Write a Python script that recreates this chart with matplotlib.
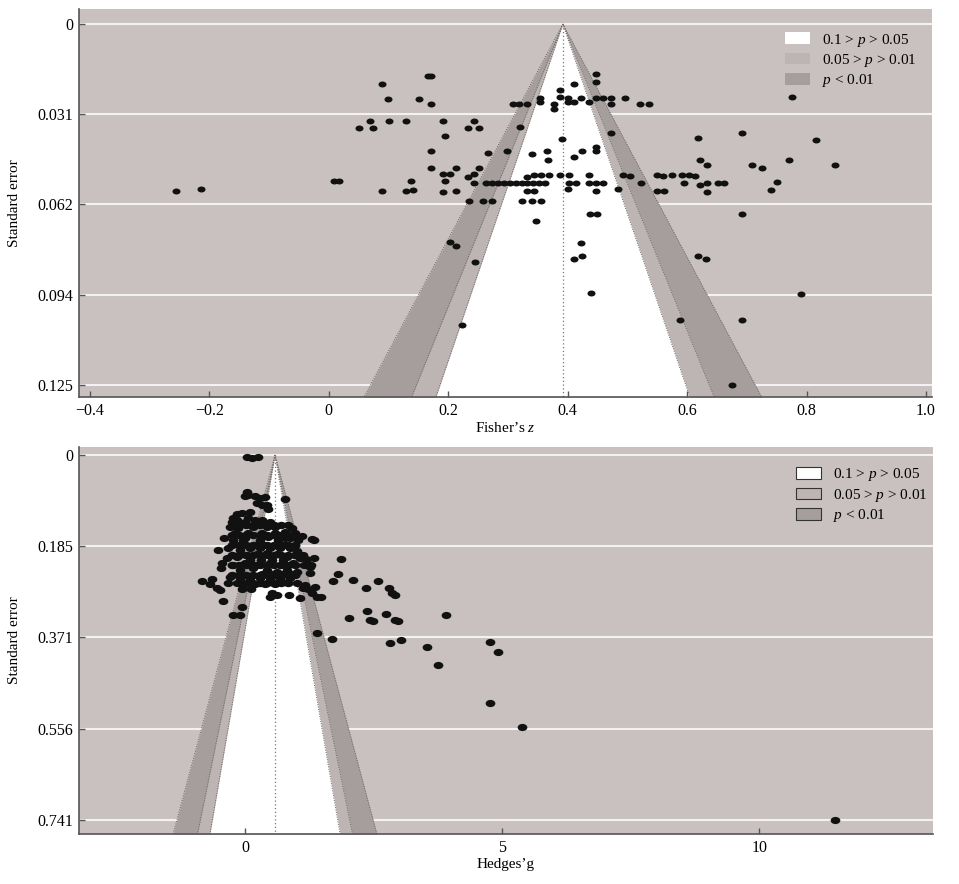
import matplotlib
matplotlib.use("Agg")
import matplotlib.pyplot as plt
from matplotlib.path import Path
from matplotlib.transforms import Affine2D
from matplotlib.patches import Patch

plt.rcParams['font.family'] = ['Liberation Serif', 'DejaVu Serif']
plt.rcParams['mathtext.fontset'] = 'custom'
plt.rcParams['mathtext.rm'] = 'Liberation Serif'
plt.rcParams['mathtext.it'] = 'Liberation Serif:italic'

# ---------------- data: top panel (Fisher's z) ----------------
top_center = 0.392
top_z = [-0.255, -0.213, 0.009, 0.018, 0.050, 0.069, 0.075, 0.090, 0.099, 0.101,
         0.090, 0.129, 0.129, 0.141, 0.138, 0.152, 0.167, 0.172, 0.171, 0.171,
         0.171, 0.192, 0.194, 0.192, 0.203, 0.195, 0.192, 0.213, 0.213, 0.234,
         0.244, 0.252, 0.234, 0.244, 0.244, 0.252, 0.235,
         0.447, 0.447, 0.411, 0.388, 0.309, 0.319, 0.332, 0.354, 0.354, 0.377,
         0.377, 0.388, 0.400, 0.400, 0.411, 0.422, 0.435, 0.447, 0.460, 0.472,
         0.472, 0.496, 0.521, 0.536, 0.775, 0.320, 0.390, 0.472, 0.618, 0.692,
         0.816, 0.266, 0.298, 0.340, 0.365, 0.368, 0.411, 0.424, 0.447, 0.447,
         0.621, 0.633, 0.708, 0.726, 0.771, 0.847, 0.332, 0.343, 0.355, 0.369,
         0.388, 0.403, 0.403, 0.414, 0.435, 0.435, 0.447, 0.460, 0.493, 0.504,
         0.523, 0.549, 0.560, 0.574, 0.591, 0.604, 0.613, 0.595, 0.622, 0.633,
         0.651, 0.662, 0.751, 0.741,
         0.263, 0.273, 0.284, 0.294, 0.304, 0.314, 0.324, 0.332, 0.342, 0.352,
         0.362,
         0.332, 0.343, 0.400, 0.447, 0.484, 0.549, 0.562, 0.633, 0.259, 0.273,
         0.323, 0.340, 0.355, 0.438, 0.449, 0.692, 0.347, 0.422, 0.411, 0.424,
         0.618, 0.632, 0.439, 0.791, 0.589, 0.692, 0.675, 0.203, 0.213, 0.245,
         0.223]
top_se = [0.0578, 0.0570, 0.0545, 0.0545, 0.0359, 0.0337, 0.0359, 0.0207, 0.0260, 0.0337,
          0.0580, 0.0337, 0.0579, 0.0575, 0.0545, 0.0260, 0.0180, 0.0180, 0.0278, 0.0439,
          0.0499, 0.0337, 0.0387, 0.0519, 0.0519, 0.0545, 0.0581, 0.0499, 0.0579, 0.0359,
          0.0337, 0.0359, 0.0530, 0.0519, 0.0550, 0.0499, 0.0612,
          0.0173, 0.0202, 0.0207, 0.0230, 0.0276, 0.0276, 0.0276, 0.0255, 0.0270, 0.0278,
          0.0294, 0.0253, 0.0255, 0.0270, 0.0270, 0.0255, 0.0270, 0.0255, 0.0255, 0.0255,
          0.0278, 0.0255, 0.0278, 0.0278, 0.0253, 0.0358, 0.0399, 0.0377, 0.0395, 0.0377,
          0.0402, 0.0448, 0.0439, 0.0449, 0.0439, 0.0472, 0.0459, 0.0439, 0.0426, 0.0439,
          0.0472, 0.0489, 0.0489, 0.0498, 0.0471, 0.0489, 0.0529, 0.0523, 0.0523, 0.0523,
          0.0522, 0.0523, 0.0550, 0.0550, 0.0523, 0.0550, 0.0550, 0.0550, 0.0523, 0.0526,
          0.0550, 0.0523, 0.0526, 0.0523, 0.0523, 0.0523, 0.0526, 0.0550, 0.0559, 0.0550,
          0.0550, 0.0550, 0.0547, 0.0576,
          0.0550, 0.0550, 0.0550, 0.0550, 0.0550, 0.0550, 0.0550, 0.0550, 0.0550, 0.0550,
          0.0550,
          0.0577, 0.0577, 0.0572, 0.0577, 0.0572, 0.0577, 0.0577, 0.0581, 0.0612, 0.0612,
          0.0612, 0.0612, 0.0612, 0.0659, 0.0659, 0.0659, 0.0682, 0.0759, 0.0813, 0.0802,
          0.0802, 0.0813, 0.0932, 0.0936, 0.1026, 0.1026, 0.1250, 0.0755, 0.0768, 0.0824,
          0.1042]
top_xticks = [-0.4, -0.2, 0, 0.2, 0.4, 0.6, 0.8, 1.0]
top_xticklabels = ['\u22120.4', '\u22120.2', '0', '0.2', '0.4', '0.6', '0.8', '1.0']
top_yticks = [0, 0.03125, 0.0625, 0.09375, 0.125]
top_yticklabels = ['0', '0.031', '0.062', '0.094', '0.125']

# ---------------- data: bottom panel (Hedges' g) ----------------
bot_center = 0.578
bot_g = [0.033, 0.140, 0.247, 0.027, -0.006, 0.062, 0.189, 0.286, 0.393, 0.767,
         0.222, 0.325, 0.422, 0.447, -0.167, -0.070, 0.091, 0.058, -0.233, -0.265,
         -0.167, -0.006, 0.189, 0.319, 0.481, -0.298, -0.136, 0.156, 0.416, 0.578,
         0.903, -0.200, 0.058, 0.319, 0.578, 0.772, 0.967, 1.097, -0.405, -0.006,
         0.447, 0.772, 1.292, 1.337, -0.233, -0.039, 0.286, 0.642, 0.870, 1.031,
         -0.525, -0.103, 0.091, 0.286, 0.481, 0.675, 0.870, 1.000, -0.362, -0.167,
         0.027, 0.222, 0.416, 0.611, 0.805, 1.064, 1.337, 1.117, 1.181, 1.856,
         -0.459, -0.467, -0.233, -0.006, 0.222, 0.481, 0.675, 0.934, 1.195, 1.142,
         1.278, 1.259, -0.103, 0.156, 0.416, 0.611, 0.805, 1.000, 1.268, 1.809,
         -0.298, -0.103, 0.091, 0.286, 0.481, 0.675, 0.870, -0.848, -0.648, -0.681,
         0.805, 1.000, 1.161, 1.356, 1.706, 2.101, 2.576, 2.348, 2.802, 2.848,
         2.907, -0.551, -0.492, -0.070, 0.111, 0.514, 0.626, 0.481, 0.850, 1.064,
         1.307, 1.389, 1.473, 1.128, 1.226, -0.428, -0.070, -0.233, -0.103, 2.023,
         2.362, 2.426, 2.479, 2.728, 2.912, 2.977, 3.905, 1.389, 1.696, 2.815,
         3.023, 3.535, 3.743, 4.761, 4.911, 4.761, 5.383, 11.473,
         0.189, 0.383, 0.578, 0.772, 0.091, 0.305, 0.519, 0.733, 0.325, 0.519,
         0.714, 0.909, -0.006, 0.189, 0.383, 0.578, -0.337, -0.161, -0.337]
bot_se = [0.0047, 0.0057, 0.0047, 0.0741, 0.0832, 0.0812, 0.0832, 0.0863, 0.0853, 0.0899,
          0.0981, 0.1005, 0.1005, 0.1102, 0.1188, 0.1184, 0.1163, 0.1285, 0.1285, 0.1354,
          0.1320, 0.1354, 0.1320, 0.1320, 0.1354, 0.1456, 0.1488, 0.1468, 0.1468, 0.1456,
          0.1478, 0.1590, 0.1577, 0.1577, 0.1590, 0.1557, 0.1590, 0.1644, 0.1675, 0.1691,
          0.1671, 0.1691, 0.1705, 0.1726, 0.1726, 0.1726, 0.1726, 0.1726, 0.1691, 0.1726,
          0.1929, 0.1929, 0.1894, 0.1894, 0.1894, 0.1894, 0.1894, 0.1949, 0.2097, 0.2065,
          0.2030, 0.2016, 0.1996, 0.2016, 0.2065, 0.2097, 0.2081, 0.2030, 0.2117, 0.2107,
          0.2199, 0.2300, 0.2233, 0.2199, 0.2233, 0.2199, 0.2233, 0.2199, 0.2199, 0.2233,
          0.2233, 0.2274, 0.2335, 0.2300, 0.2335, 0.2369, 0.2335, 0.2369, 0.2395, 0.2416,
          0.2471, 0.2491, 0.2491, 0.2491, 0.2491, 0.2491, 0.2491, 0.2558, 0.2513, 0.2619,
          0.2572, 0.2605, 0.2639, 0.2674, 0.2568, 0.2544, 0.2568, 0.2704, 0.2700, 0.2808,
          0.2842, 0.2710, 0.2741, 0.2716, 0.2724, 0.2801, 0.2832, 0.2877, 0.2842, 0.2909,
          0.2808, 0.2873, 0.2873, 0.2706, 0.2726, 0.2964, 0.3086, 0.3248, 0.3248, 0.3315,
          0.3161, 0.3343, 0.3380, 0.3232, 0.3350, 0.3380, 0.3248, 0.3620, 0.3729, 0.3817,
          0.3756, 0.3892, 0.4269, 0.3796, 0.4005, 0.5035, 0.5528, 0.7410,
          0.1827, 0.1827, 0.1827, 0.1827, 0.2132, 0.2132, 0.2132, 0.2132, 0.2416, 0.2416,
          0.2416, 0.2416, 0.2619, 0.2619, 0.2619, 0.2619, 0.2598, 0.2598, 0.1888]

# densely overlapping core of the bottom cluster (estimated)
core_g = [-0.123, 0.014, 0.150, 0.286, 0.422, 0.558, 0.695, 0.831,
          -0.259, -0.123, 0.014, 0.150, 0.286, 0.422, 0.558, 0.695, 0.831, 0.967,
          -0.259, -0.123, 0.014, 0.150, 0.286, 0.422, 0.558, 0.695, 0.831, 0.967,
          -0.259, -0.123, 0.014, 0.150, 0.286, 0.422, 0.558, 0.695, 0.831, 0.967,
          -0.259, -0.123, 0.014, 0.150, 0.286, 0.422, 0.558, 0.695, 0.831, 0.967,
          -0.259, -0.123, 0.014, 0.150, 0.286, 0.422, 0.558, 0.695, 0.831, 0.967,
          -0.123, 0.014, 0.150, 0.286, 0.422, 0.558, 0.695, 0.831]
core_se = [0.1421, 0.1421, 0.1421, 0.1421, 0.1421, 0.1421, 0.1421, 0.1421,
           0.1624, 0.1624, 0.1624, 0.1624, 0.1624, 0.1624, 0.1624, 0.1624, 0.1624, 0.1624,
           0.1827, 0.1827, 0.1827, 0.1827, 0.1827, 0.1827, 0.1827, 0.1827, 0.1827, 0.1827,
           0.2030, 0.2030, 0.2030, 0.2030, 0.2030, 0.2030, 0.2030, 0.2030, 0.2030, 0.2030,
           0.2233, 0.2233, 0.2233, 0.2233, 0.2233, 0.2233, 0.2233, 0.2233, 0.2233, 0.2233,
           0.2436, 0.2436, 0.2436, 0.2436, 0.2436, 0.2436, 0.2436, 0.2436, 0.2436, 0.2436,
           0.2598, 0.2598, 0.2598, 0.2598, 0.2598, 0.2598, 0.2598, 0.2598]

bot_xticks = [0, 5, 10]
bot_xticklabels = ['0', '5', '10']
bot_yticks = [0, 0.741 / 4, 0.741 / 2, 0.741 * 3 / 4, 0.741]
bot_yticklabels = ['0', '0.185', '0.371', '0.556', '0.741']

z_levels = [2.576, 1.96, 1.645]
legend_labels = ['0.1 > $p$ > 0.05', '0.05 > $p$ > 0.01', '$p$ < 0.01']

# ---------------- styling ----------------
BG = '#c8c1bf'
LIGHT = '#bdb5b3'
DARK = '#a59e9c'
GRID = '#f3f1f1'
SPINE = '#555555'
FS = 11.5

circ = Path.unit_circle()
ellipse = circ.transformed(Affine2D().scale(1.35, 1.0))

fig = plt.figure(figsize=(9.59, 8.84), dpi=100)
ax1 = fig.add_axes([0.0824, 0.5509, 0.8894, 0.4389])
ax2 = fig.add_axes([0.0824, 0.0566, 0.8905, 0.4377])


def funnel(ax, center, se_max):
    se = [0, se_max]
    fills = [DARK, LIGHT, 'white']
    for k, col in zip(z_levels, fills):
        ax.fill_betweenx(se, [center, center - k * se_max], [center, center + k * se_max],
                         color=col, lw=0, zorder=1)
        for s in (-1, 1):
            ax.plot([center, center + s * k * se_max], se, ls=(0, (1, 1.5)),
                    color='#6a6464', lw=0.7, zorder=1.5)
    ax.plot([center, center], se, ls=(0, (1, 2)), color='#777777', lw=0.9, zorder=1.6)


def style(ax, xlim, ylim, xticks, xtl, yticks, ytl, xlabel):
    ax.set_facecolor(BG)
    ax.set_xlim(*xlim)
    ax.set_ylim(*ylim)
    for yt in yticks:
        ax.axhline(yt, color=GRID, lw=1.5, zorder=0.5)
    ax.set_xticks(xticks)
    ax.set_xticklabels(xtl)
    ax.set_yticks(yticks)
    ax.set_yticklabels(ytl)
    ax.tick_params(direction='in', length=4, width=1, color=SPINE, labelsize=FS,
                   pad=4)
    for sp in ('top', 'right'):
        ax.spines[sp].set_visible(False)
    for sp in ('left', 'bottom'):
        ax.spines[sp].set_color(SPINE)
        ax.spines[sp].set_linewidth(1.2)
    ax.set_ylabel('Standard error', fontsize=11)
    ax.yaxis.set_label_coords(-0.068, 0.5)
    ax.set_xlabel(xlabel, fontsize=11, labelpad=2)


# top panel
style(ax1, (-0.418, 1.010), (0.1292, -0.0052), top_xticks, top_xticklabels,
      top_yticks, top_yticklabels, 'Fisher\u2019s $z$')
funnel(ax1, top_center, 0.1292)
ax1.plot(top_z, top_se, ls='none', marker=ellipse, ms=5.8, color='#111111',
         mec='none', zorder=3)
h1 = [Patch(facecolor=c, edgecolor='none') for c in ('white', LIGHT, DARK)]
ax1.legend(h1, legend_labels, loc='upper left', bbox_to_anchor=(0.828, 0.942),
           frameon=False, fontsize=11, handlelength=1.6, handleheight=0.8,
           handletextpad=0.8, labelspacing=0.22, borderpad=0, borderaxespad=0)

# bottom panel
style(ax2, (-3.235, 13.38), (0.7694, -0.0162), bot_xticks, bot_xticklabels,
      bot_yticks, bot_yticklabels, 'Hedges\u2019g')
funnel(ax2, bot_center, 0.7694)
ax2.plot(core_g, core_se, ls='none', marker=ellipse, ms=7.2, color='#111111',
         mec='none', zorder=3)
ax2.plot(bot_g, bot_se, ls='none', marker=ellipse, ms=7.0, color='#111111',
         mec='none', zorder=3)
h2 = [Patch(facecolor=c, edgecolor='#333333', lw=0.8) for c in ('white', LIGHT, DARK)]
ax2.legend(h2, legend_labels, loc='upper left', bbox_to_anchor=(0.840, 0.950),
           frameon=False, fontsize=11, handlelength=1.6, handleheight=0.8,
           handletextpad=0.8, labelspacing=0.22, borderpad=0, borderaxespad=0)

fig.savefig('out.png', dpi=100, facecolor='white')
